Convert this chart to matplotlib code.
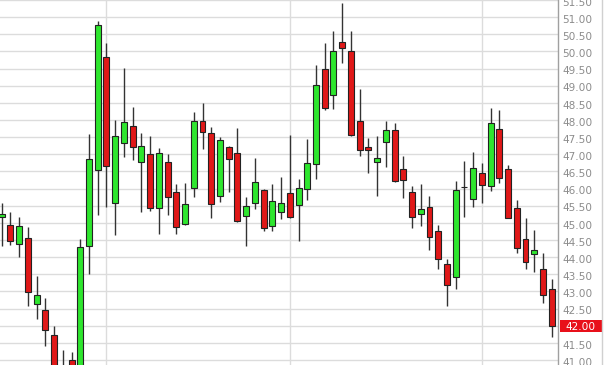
import numpy as np
import matplotlib
matplotlib.use('Agg')
import matplotlib.pyplot as plt
from matplotlib.patches import Rectangle
from matplotlib.transforms import blended_transform_factory, ScaledTranslation

# Datos de velas (una por sesion, de izquierda a derecha)
opens = [45.16, 44.94, 44.39, 44.57, 42.64, 42.46, 41.73, 40.80, 41.01, 40.70,
         44.32, 46.53, 49.85, 45.57, 47.32, 47.83, 46.78, 47.01, 45.44, 46.78,
         45.89, 44.97, 46.02, 47.96, 47.61, 45.79, 47.21, 47.05, 45.19, 45.57,
         45.96, 44.90, 45.32, 45.87, 45.51, 45.98, 46.72, 49.49, 48.72, 50.28,
         50.00, 47.96, 47.21, 46.77, 47.35, 47.71, 46.56, 45.89, 45.26, 45.45,
         44.75, 43.79, 43.41, 46.04, 45.70, 46.44, 46.08, 47.75, 46.56, 45.42,
         44.54, 44.08, 43.65, 43.06]
highs = [45.59, 45.31, 45.17, 44.89, 43.45, 42.82, 41.99, 41.29, 41.24, 44.54,
         47.59, 50.90, 50.24, 48.00, 49.52, 48.39, 47.62, 47.52, 47.18, 47.01,
         46.13, 46.16, 48.23, 48.49, 47.80, 47.51, 47.25, 47.77, 45.74, 46.90,
         46.00, 46.13, 46.33, 47.56, 46.29, 47.44, 49.59, 50.24, 50.60, 51.40,
         50.60, 48.89, 47.48, 47.53, 47.98, 47.90, 46.95, 46.08, 46.12, 45.77,
         44.95, 43.94, 46.22, 46.79, 47.06, 46.74, 48.36, 48.30, 46.69, 45.66,
         45.14, 44.79, 44.11, 43.35]
lows = [44.32, 44.35, 44.01, 42.58, 42.20, 41.41, 40.50, 40.40, 40.40, 40.50,
        43.50, 45.22, 45.47, 44.64, 46.93, 46.83, 45.31, 45.34, 44.67, 45.22,
        44.67, 44.93, 45.74, 47.15, 45.15, 45.60, 45.91, 45.03, 44.32, 45.40,
        44.75, 44.75, 45.11, 45.13, 44.46, 45.67, 46.27, 48.28, 48.31, 49.67,
        47.53, 46.95, 46.46, 45.78, 46.64, 46.20, 45.72, 44.86, 44.91, 44.21,
        43.66, 42.57, 43.06, 45.16, 45.47, 45.57, 45.94, 46.17, 45.13, 44.11,
        43.65, 43.56, 42.65, 41.68]
closes = [45.25, 44.46, 44.91, 42.99, 42.90, 41.88, 40.70, 40.60, 40.60, 44.30,
          46.85, 50.77, 46.66, 47.52, 47.93, 47.20, 47.23, 45.44, 47.05, 45.76,
          44.87, 45.54, 47.96, 47.64, 45.54, 47.42, 46.87, 45.05, 45.48, 46.18,
          44.84, 45.65, 45.58, 45.17, 46.02, 46.75, 49.01, 48.35, 50.00, 50.09,
          47.56, 47.13, 47.13, 46.89, 47.71, 46.23, 46.26, 45.16, 45.39, 44.59,
          43.95, 43.19, 45.96, 46.04, 46.59, 46.11, 47.90, 46.31, 45.15, 44.27,
          43.86, 44.22, 42.90, 42.00]

# Indices donde empieza cada mes (lineas verticales)
inicio_mes = [12, 33, 55]
precios_eje = np.arange(41.0, 51.51, 0.5)

verde = '#2ee62e'
rojo = '#e01818'

fig = plt.figure(figsize=(6.11, 3.65), dpi=100)
ax = fig.add_axes([0, 0, 558 / 611, 1])

x = np.arange(len(opens))
o = np.array(opens)
c = np.array(closes)
colores = [verde if cc >= oo else rojo for oo, cc in zip(o, c)]

# Mechas y cuerpos
ax.vlines(x, lows, highs, color='#333333', linewidth=1, zorder=2)
ax.bar(x, np.abs(c - o), bottom=np.minimum(o, c), width=0.68,
       color=colores, edgecolor='#222222', linewidth=0.8, zorder=3)

ax.set_xlim(-0.195, 63.72)
ax.set_ylim(40.854, 51.5)

ultimo = closes[-1]

# Grilla (la etiqueta del ultimo precio va en la caja roja)
ax.set_yticks(precios_eje)
ax.set_yticklabels(['' if abs(p - ultimo) < 0.01 else f'{p:.2f}' for p in precios_eje])
ax.set_xticks(inicio_mes)
ax.set_xticklabels([])
ax.grid(True, color='#dcdcdc', linewidth=1, zorder=0)
ax.set_axisbelow(True)

ax.yaxis.tick_right()
ax.tick_params(axis='y', length=0, pad=3, labelsize=7.6, labelcolor='#8c8c8c')
ax.tick_params(axis='x', length=0)
for s in ['top', 'left', 'bottom']:
    ax.spines[s].set_visible(False)
ax.spines['right'].set_color('#a0a0a0')
ax.spines['right'].set_linewidth(1)

# Bajar un poco las etiquetas como en el original
desplazamiento = ScaledTranslation(0, -1.7 / 100, fig.dpi_scale_trans)
for lbl in ax.get_yticklabels():
    lbl.set_transform(lbl.get_transform() + desplazamiento)

# Etiqueta del ultimo precio
trans = blended_transform_factory(ax.transAxes, ax.transData)
alto = 12 / 34.29 * 0.5
ax.add_patch(Rectangle((1.0 + 1.5 / 558, ultimo - alto), 42 / 558, 2 * alto,
                       transform=trans, facecolor='#e8101a', edgecolor='none',
                       clip_on=False, zorder=5))
ax.text(1.0 + 22 / 558, ultimo, f'{ultimo:.2f}', transform=trans + desplazamiento,
        color='white', fontsize=7.6, ha='center', va='center', zorder=6, clip_on=False)

# Borde derecho del area de etiquetas
fig.add_artist(plt.Line2D([601.5 / 611, 601.5 / 611], [0, 1], color='#d0d0d0',
                          linewidth=1, transform=fig.transFigure))

plt.savefig('out.png', dpi=100)
plt.close()
